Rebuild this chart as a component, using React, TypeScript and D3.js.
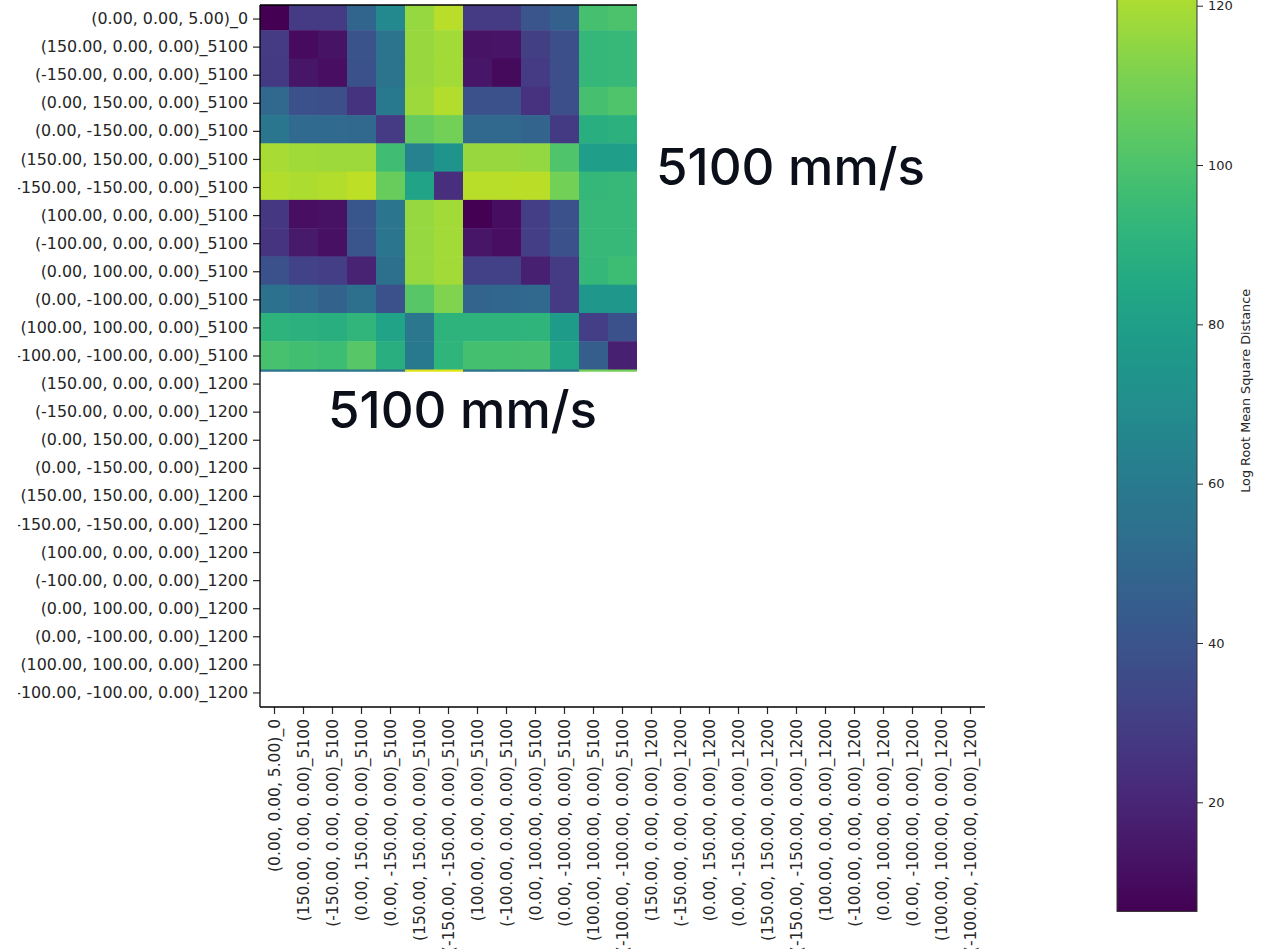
import React, { useEffect, useRef } from "react";
import * as d3 from "d3";

// trajectory offsets, shared by the 5100 and 1200 mm/s runs
const offsets = [
  "(150.00, 0.00, 0.00)",
  "(-150.00, 0.00, 0.00)",
  "(0.00, 150.00, 0.00)",
  "(0.00, -150.00, 0.00)",
  "(150.00, 150.00, 0.00)",
  "(-150.00, -150.00, 0.00)",
  "(100.00, 0.00, 0.00)",
  "(-100.00, 0.00, 0.00)",
  "(0.00, 100.00, 0.00)",
  "(0.00, -100.00, 0.00)",
  "(100.00, 100.00, 0.00)",
  "(-100.00, -100.00, 0.00)",
];
const labels = [
  "(0.00, 0.00, 5.00)_0",
  ...offsets.map((o) => o + "_5100"),
  ...offsets.map((o) => o + "_1200"),
];

// visible part of the matrix (first 13 columns, rows 0-12 plus top of row 13)
const rmsd = [
  [6.5, 29, 29, 48.5, 68, 116.5, 123, 29, 29, 41, 46, 98.5, 100],
  [29, 10, 12.5, 39.5, 56, 117, 119, 12.5, 13, 30.5, 37.5, 93.5, 94],
  [28, 13.5, 11, 38.5, 56, 117, 119, 13.5, 9.5, 29, 37.5, 93.5, 94],
  [50, 38.5, 37.5, 25.5, 59, 118, 122, 38.5, 38.5, 25, 37.5, 98.5, 101],
  [57.5, 51, 51, 50, 29, 106, 109, 50, 50, 48, 28, 89, 90],
  [120, 118.5, 118, 118, 97, 64, 74, 117, 117, 116, 101, 79, 79],
  [122, 121, 122, 124, 106.5, 82, 24, 123, 123, 123.5, 109, 93.5, 94],
  [27, 11, 12, 41.5, 57, 116.5, 119, 6.5, 10.5, 30, 38.5, 94, 94],
  [26, 15, 11.5, 40.5, 57, 116.5, 119, 13.5, 11, 30, 38.5, 94, 94],
  [38.5, 32, 30, 19, 54, 116.5, 119, 31, 31, 18, 29, 93.5, 96],
  [55, 51, 47, 54, 38.5, 102.5, 111.5, 48, 49, 50, 29, 76, 76],
  [91, 90, 89, 92, 82, 58, 91, 91, 91, 91.5, 78, 30, 38.5],
  [99, 97.5, 96, 102.5, 89, 59, 91.5, 98, 98, 98.5, 83, 45, 18],
  [57, 57, 57, 57, 57, 131, 131, 54, 54, 54, 54, 109, 109],
];

const cbTicks = [20, 40, 60, 80, 100, 120];
const vmin = 6.3;
const vmax = 137;
const annotation = "5100 mm/s";

const W = 1265;
const H = 949;

const App = () => {
  const ref = useRef<SVGSVGElement>(null);

  useEffect(() => {
    const svg = d3.select(ref.current);
    svg.selectAll("*").remove();

    const margin = { top: 5, left: 260, right: 985, bottom: 707 };
    const font = "'DejaVu Sans', sans-serif";
    const ink = "#262626";

    const x = d3.scaleBand().domain(labels).range([margin.left, margin.right]);
    const y = d3.scaleBand().domain(labels).range([margin.top, margin.bottom]);
    // the pasted heatmap image sits a few px higher than the tick grid
    const yImg = d3
      .scaleBand()
      .domain(labels)
      .range([margin.top - 3, margin.top - 3 + 25 * 28.27]);
    const color = d3.scaleSequential(d3.interpolateViridis).domain([vmin, vmax]);

    const defs = svg.append("defs");
    const imgRight = x(labels[13])!;
    const imgBottom = yImg(labels[13])! + 2.3;
    defs
      .append("clipPath")
      .attr("id", "img-clip")
      .append("rect")
      .attr("x", margin.left)
      .attr("y", margin.top)
      .attr("width", imgRight - margin.left)
      .attr("height", imgBottom - margin.top);
    // y labels are cut at x=18 in the reference; clip is in the axis group's local coords
    defs
      .append("clipPath")
      .attr("id", "ylab-clip")
      .append("rect")
      .attr("x", 18 - margin.left)
      .attr("y", 0)
      .attr("width", margin.left - 18 + 5)
      .attr("height", H);

    const cells = rmsd.flatMap((row, i) =>
      row.map((v, j) => ({ r: labels[i], c: labels[j], v }))
    );
    svg
      .append("g")
      .attr("clip-path", "url(#img-clip)")
      .selectAll("rect")
      .data(cells)
      .join("rect")
      .attr("x", (d) => x(d.c)!)
      .attr("y", (d) => yImg(d.r)!)
      .attr("width", x.bandwidth() + 0.5)
      .attr("height", yImg.bandwidth() + 0.5)
      .attr("fill", (d) => color(d.v));

    // axes
    const yAxis = svg
      .append("g")
      .attr("transform", `translate(${margin.left},0)`)
      .attr("clip-path", "url(#ylab-clip)")
      .call(d3.axisLeft(y).tickSize(7).tickPadding(5).tickSizeOuter(0));
    const xAxis = svg
      .append("g")
      .attr("transform", `translate(0,${margin.bottom})`)
      .call(d3.axisBottom(x).tickSize(7).tickPadding(5).tickSizeOuter(0));
    xAxis
      .selectAll("text")
      .attr("transform", "rotate(-90)")
      .attr("x", -12)
      .attr("y", 0)
      .attr("dy", "0.35em")
      .style("text-anchor", "end");
    [yAxis, xAxis].forEach((g, i) => {
      g.select(".domain").remove();
      g.selectAll("line").attr("stroke", ink).attr("stroke-width", 1.2);
      g.selectAll("text")
        .attr("fill", ink)
        .style("font-family", font)
        .style("font-size", i === 0 ? "15.9px" : "15.5px");
    });

    // spines (top one only over the visible image)
    const spine = svg.append("g").attr("stroke", "#000").attr("stroke-width", 1.3);
    spine.append("line")
      .attr("x1", margin.left).attr("x2", margin.left)
      .attr("y1", margin.top).attr("y2", margin.bottom);
    spine.append("line")
      .attr("x1", margin.left).attr("x2", margin.right)
      .attr("y1", margin.bottom).attr("y2", margin.bottom);
    spine.append("line")
      .attr("x1", margin.left).attr("x2", imgRight)
      .attr("y1", margin.top).attr("y2", margin.top);

    // colorbar
    const cbX = 1117;
    const cbW = 80;
    const cb = d3.scaleLinear().domain([20, 120]).range([802.3, 5.7]);
    const grad = defs
      .append("linearGradient")
      .attr("id", "cb-grad")
      .attr("x1", 0).attr("y1", 1).attr("x2", 0).attr("y2", 0);
    d3.range(0, 1.0001, 0.05).forEach((t) =>
      grad.append("stop").attr("offset", t).attr("stop-color", d3.interpolateViridis(t))
    );
    svg
      .append("rect")
      .attr("x", cbX)
      .attr("y", cb(vmax))
      .attr("width", cbW)
      .attr("height", cb(vmin) - cb(vmax))
      .attr("fill", "url(#cb-grad)")
      .attr("stroke", "#333")
      .attr("stroke-width", 1);
    const cbAxis = svg
      .append("g")
      .attr("transform", `translate(${cbX + cbW},0)`)
      .call(d3.axisRight(cb).tickValues(cbTicks).tickSize(6).tickPadding(5).tickSizeOuter(0));
    cbAxis.select(".domain").remove();
    cbAxis.selectAll("line").attr("stroke", ink);
    cbAxis
      .selectAll("text")
      .attr("fill", ink)
      .style("font-family", font)
      .style("font-size", "13px");
    svg
      .append("text")
      .attr("transform", `translate(1250,${(cb(vmax) + cb(vmin)) / 2}) rotate(-90)`)
      .attr("text-anchor", "middle")
      .attr("fill", ink)
      .style("font-family", font)
      .style("font-size", "12.8px")
      .text("Log Root Mean Square Distance");

    // speed annotations
    const notes = [
      { x: 656, y: 185 },
      { x: 328, y: 428 },
    ];
    svg
      .append("g")
      .selectAll("text")
      .data(notes)
      .join("text")
      .attr("x", (d) => d.x)
      .attr("y", (d) => d.y)
      .attr("textLength", 269)
      .attr("lengthAdjust", "spacingAndGlyphs")
      .attr("fill", "#0b0f19")
      .style("font-family", "Inter, Lato, sans-serif")
      .style("font-weight", 500)
      .style("font-size", "51px")
      .text(annotation);
  }, []);

  return (
    <svg
      ref={ref}
      width={W}
      height={H}
      style={{ position: "absolute", left: 0, top: 0, background: "#fff" }}
    ></svg>
  );
};

export default App;
